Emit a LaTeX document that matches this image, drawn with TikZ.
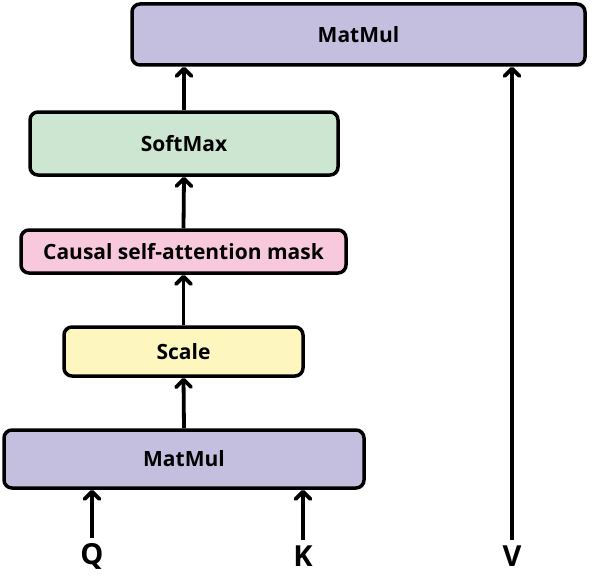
\documentclass[tikz,border=0pt]{standalone}
\usepackage{fontspec}
\setmainfont{Open Sans}
\usetikzlibrary{arrows.meta,positioning}
\tikzset{>={Straight Barb[length=7.5pt,width=15pt,round]}}
\colorlet{penColor}{black}
\definecolor{mmColor}{HTML}{C5BFDF}
\definecolor{smColor}{HTML}{CCE6D1}
\definecolor{maskColor}{HTML}{F8C9DC}
\definecolor{scaleColor}{HTML}{FDF7BF}
\tikzset{
  block/.style={draw=penColor, line width=3.5pt, rounded corners=8pt,
    font=\fontsize{21}{25}\selectfont\bfseries, inner sep=0pt},
  flow/.style={->, penColor, line width=3.8pt},
  inlabel/.style={font=\fontsize{29}{33}\selectfont\bfseries, inner sep=0pt}
}

\begin{document}
\begin{tikzpicture}[x=1pt,y=-1pt]
				\useasboundingbox (0,0) rectangle (592,578);
				% blocks
				\node [block, fill=mmColor, minimum width=453pt, minimum height=61pt] (matmulTop) at (358.5,34.5) {MatMul};
				\node [block, fill=smColor, minimum width=308pt, minimum height=63pt] (softmax) at (184,143.5) {SoftMax};
				\node [block, fill=maskColor, minimum width=325pt, minimum height=43pt] (mask) at (183.5,251.5) {Causal self-attention mask};
				\node [block, fill=scaleColor, minimum width=239pt, minimum height=49pt] (scale) at (183.5,351.5) {Scale};
				\node [block, fill=mmColor, minimum width=360pt, minimum height=58pt] (matmulBot) at (184,459) {MatMul};
				
				% inputs
				\node [inlabel] (q) at (92,556) {Q};
				\node [inlabel] (k) at (303,556) {K};
				\node [inlabel] (v) at (512,556) {V};
				
				\draw [flow] ([yshift=5pt]q.north) -- (q |- matmulBot.south);
				\draw [flow] ([yshift=5pt]k.north) -- (k |- matmulBot.south);
				\draw [flow] ([yshift=5pt]v.north) -- (v |- matmulTop.south);
				%\draw [flow] (matmulBot) -- (scale);
				\draw [flow] (matmulBot.north) -- (scale.south);
				\draw [flow] (scale.north) -- (mask.south);
				\draw [flow] (mask.north) -- (softmax.south);
				\draw [flow] (softmax.north) -- (softmax.north |- matmulTop.south);
\end{tikzpicture}
\end{document}
